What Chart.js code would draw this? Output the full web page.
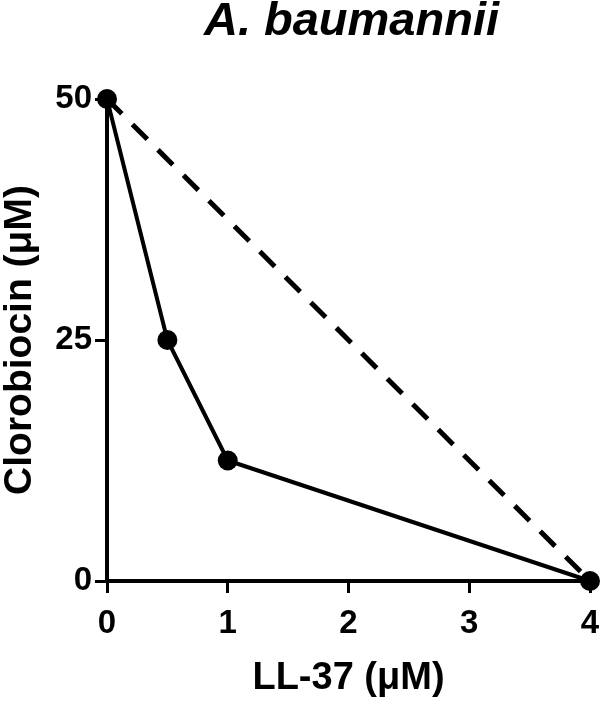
<!DOCTYPE html>
<html lang="en">
<head>
    <meta charset="UTF-8">
    <title>A. baumannii isobologram</title>
    <style>
        body {
            margin: 0;
            background-color: white;
        }
        canvas {
            display: block;
        }
    </style>
</head>
<body>
    <canvas id="isoChart" width="600" height="706"></canvas>

    <script src="https://cdn.jsdelivr.net/npm/chart.js"></script>
    <script>
        // Datos del isobolograma
        const ll37 = [0, 0.5, 1, 4];
        const clorobiocin = [50, 25, 12.5, 0];
        // Linea de aditividad (dashed)
        const additiveX = [0, 4];
        const additiveY = [50, 0];

        const xTicks = [0, 1, 2, 3, 4];
        const yTicks = [0, 25, 50];

        const FONT = "'Liberation Sans', Arial, sans-serif";

        // Titulo centrado sobre el area del grafico
        const titlePlugin = {
            id: 'plotTitle',
            afterDraw(chart) {
                const ctx = chart.ctx;
                const area = chart.chartArea;
                ctx.save();
                ctx.font = "italic bold 47px " + FONT;
                ctx.fillStyle = '#000';
                ctx.textAlign = 'center';
                ctx.textBaseline = 'alphabetic';
                ctx.fillText('A. baumannii', (area.left + area.right) / 2 + 3, 35);
                ctx.restore();
            }
        };

        const toPoints = (xs, ys) => xs.map((x, i) => ({ x: x, y: ys[i] }));

        new Chart(document.getElementById('isoChart'), {
            type: 'scatter',
            data: {
                datasets: [
                    {
                        data: toPoints(ll37, clorobiocin),
                        showLine: true,
                        borderColor: '#000',
                        borderWidth: 4,
                        backgroundColor: '#000',
                        pointRadius: 10,
                        pointHoverRadius: 10,
                        pointBackgroundColor: '#000',
                        pointBorderWidth: 0,
                        clip: false
                    },
                    {
                        data: toPoints(additiveX, additiveY),
                        showLine: true,
                        borderColor: '#000',
                        borderWidth: 5,
                        borderDash: [21, 15],
                        pointRadius: 0,
                        clip: false
                    }
                ]
            },
            options: {
                responsive: false,
                devicePixelRatio: 1,
                animation: false,
                layout: {
                    padding: { top: 99, right: 10, left: 0, bottom: 0 }
                },
                plugins: {
                    legend: { display: false },
                    tooltip: { enabled: false }
                },
                scales: {
                    x: {
                        type: 'linear',
                        min: 0,
                        max: 4,
                        afterFit: (scale) => {
                            scale.height = 125;
                            scale.paddingLeft = 0;
                            scale.paddingRight = 0;
                        },
                        afterBuildTicks: (scale) => { scale.ticks = xTicks.map(v => ({ value: v })); },
                        ticks: {
                            color: '#000',
                            padding: 11,
                            font: { family: FONT, size: 33, weight: 'bold' }
                        },
                        grid: {
                            drawOnChartArea: false,
                            drawTicks: true,
                            tickLength: 12,
                            lineWidth: 3,
                            color: '#000'
                        },
                        border: { display: true, width: 4, color: '#000' },
                        title: {
                            display: true,
                            text: 'LL-37 (\u03bcM)',
                            color: '#000',
                            font: { family: FONT, size: 38, weight: 'bold' },
                            padding: { top: 0, bottom: 5 }
                        }
                    },
                    y: {
                        type: 'linear',
                        min: 0,
                        max: 50,
                        afterFit: (scale) => {
                            scale.width = 107;
                            scale.paddingTop = 0;
                            scale.paddingBottom = 0;
                        },
                        afterBuildTicks: (scale) => { scale.ticks = yTicks.map(v => ({ value: v })); },
                        ticks: {
                            color: '#000',
                            padding: 3,
                            font: { family: FONT, size: 33, weight: 'bold' }
                        },
                        grid: {
                            drawOnChartArea: false,
                            drawTicks: true,
                            tickLength: 12,
                            lineWidth: 3,
                            color: '#000'
                        },
                        border: { display: true, width: 4, color: '#000' },
                        title: {
                            display: true,
                            text: 'Clorobiocin (\u03bcM)',
                            color: '#000',
                            font: { family: FONT, size: 39, weight: 'bold', lineHeight: 1.05 },
                            padding: { top: 0, bottom: 0 }
                        }
                    }
                }
            },
            plugins: [titlePlugin]
        });
    </script>
</body>
</html>
